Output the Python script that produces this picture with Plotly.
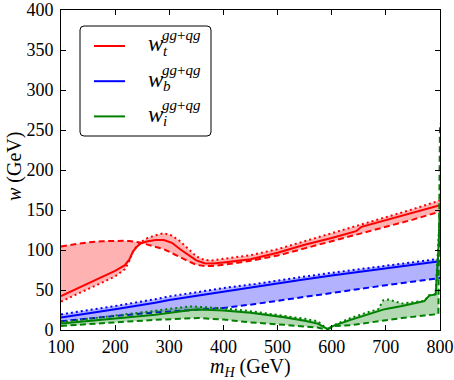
import plotly.graph_objects as go

# ---------------- data ----------------
mH_t = [100, 125, 150, 175, 200, 218, 226, 233, 240, 248, 260, 275, 290, 305, 320, 335, 350, 365, 380, 400,
        450, 500, 550, 600, 645, 655, 700, 750, 800]
wt_solid = [42.5, 50, 58, 66, 74, 81, 88, 98, 104, 108.5, 111, 112.5, 112.5, 109, 101, 94, 87, 83.5, 83, 84.5,
            88.5, 96.5, 106.5, 115, 123.5, 129, 137.5, 147, 156]
wt_dashed = [104.5, 107.5, 109.6, 111, 111.7, 111.5, 111.3, 111, 110, 109, 106.5, 104, 101, 96, 90.5, 86, 81.5, 80, 80, 81.5,
             86.5, 93, 102, 111, 119.5, 121, 129, 138, 148]
wt_dotted = [35.5, 43, 51, 59, 67, 76, 86, 98, 105, 110, 115, 118.5, 121, 118, 111, 101, 92, 87.5, 87, 89,
             93.5, 101, 111, 121, 130.5, 132, 141, 151, 162]

mH_b = [100, 150, 200, 274, 300, 354, 400, 459, 500, 542, 600, 635, 700, 800]
wb_solid = [15.5, 20.5, 26, 34, 37.5, 43, 48, 53.5, 58, 62.5, 68, 71, 77.5, 86]
wb_dashed = [11, 14.5, 17.5, 22, 23, 25, 27.5, 32.5, 36.5, 40.8, 46, 50, 56, 65]
wb_dotted = [19.5, 24.5, 30, 38.5, 42, 47.5, 52.5, 57.5, 62, 66, 71.5, 74.5, 80.5, 89]

mH_i = [100, 150, 200, 274, 300, 340, 354, 400, 450, 512, 550, 574, 592, 604, 635, 666, 686, 695, 705, 730,
        771, 780, 792, 797, 800]
wi_solid = [8, 11.5, 14.5, 19, 21.5, 25, 25.5, 24.5, 21.5, 16, 11.5, 8, 1.5, 5.5, 12.7, 19.5, 24, 25.5, 27, 30,
            36, 43, 44.5, 100, 150]
wi_dotted = [10, 14, 17.5, 24, 26.5, 29.5, 29, 27, 23.5, 18, 14, 11, 1, 6, 15, 22, 26, 37, 38, 33,
             36.5, 43.5, 45, 110, 150]
wi_dashed = [5, 7.5, 9.5, 12.7, 13.5, 15, 15, 13, 9.5, 6.5, 4.5, 3, 0.5, 4.8, 6, 9, 11.5, 12.3, 13, 15,
             18, 18.8, 19.5, 20, 258]

x_ticks = [100, 200, 300, 400, 500, 600, 700, 800]
y_ticks = [0, 50, 100, 150, 200, 250, 300, 350, 400]

series = [
    ("t", mH_t, wt_solid, wt_dashed, wt_dotted, "#ff0000", "rgba(255,0,0,0.3)"),
    ("b", mH_b, wb_solid, wb_dashed, wb_dotted, "#0000ff", "rgba(0,0,255,0.3)"),
    ("i", mH_i, wi_solid, wi_dashed, wi_dotted, "#008000", "rgba(0,128,0,0.3)"),
]

# ---------------- layout geometry (window pixels) ----------------
W, H = 454, 380
PL, PR, PT, PB = 61, 440, 10, 330          # plot area
L, T = PL, PT
R, B = W - PR, H - PB
PW, PH = PR - PL, PB - PT


def px2x(px):
    return (px - PL) / PW


def py2y(py):
    return (PB - py) / PH


FONT = "Liberation Serif"

fig = go.Figure()

for name, m, s, d, o, col, fcol in series:
    fig.add_trace(go.Scatter(x=list(m) + list(m)[::-1], y=list(d) + list(o)[::-1],
                             fill="toself", fillcolor=fcol, mode="lines",
                             line=dict(width=0), hoverinfo="skip", showlegend=False))
    fig.add_trace(go.Scatter(x=m, y=d, mode="lines", showlegend=False,
                             line=dict(color=col, width=2, dash="6px,3.5px")))
    fig.add_trace(go.Scatter(x=m, y=o, mode="lines", showlegend=False,
                             line=dict(color=col, width=2, dash="2px,3px")))
    fig.add_trace(go.Scatter(x=m, y=s, mode="lines", showlegend=False,
                             line=dict(color=col, width=2)))

axis_common = dict(showgrid=False, zeroline=False, showline=True, linecolor="black", linewidth=1,
                   mirror="ticks", ticks="inside", ticklen=5, tickcolor="black", tickwidth=1,
                   automargin=False,
                   tickfont=dict(family=FONT, size=18, color="black"))

fig.update_xaxes(range=[100, 800], tickvals=x_ticks, ticktext=[str(v) for v in x_ticks], **axis_common)
fig.update_yaxes(range=[0, 400], tickvals=y_ticks, ticktext=[str(v) for v in y_ticks],
                 ticklabelstandoff=3, **axis_common)

shapes = []
annotations = []

# legend box
x0, x1, y0, y1, r = 80, 211, 26, 136, 4
X0, X1, Y0, Y1 = px2x(x0), px2x(x1), py2y(y0), py2y(y1)
rx, ry = r / PW, r / PH
path = (f"M {X0+rx},{Y0} L {X1-rx},{Y0} Q {X1},{Y0} {X1},{Y0-ry} L {X1},{Y1+ry} Q {X1},{Y1} {X1-rx},{Y1} "
        f"L {X0+rx},{Y1} Q {X0},{Y1} {X0},{Y1+ry} L {X0},{Y0-ry} Q {X0},{Y0} {X0+rx},{Y0} Z")
shapes.append(dict(type="path", xref="paper", yref="paper", path=path,
                   line=dict(color="black", width=1), fillcolor="white", layer="above"))

for k, (name, m, s, d, o, col, fcol) in enumerate(series):
    yl = 46 + 35.2 * k
    shapes.append(dict(type="line", xref="paper", yref="paper", x0=px2x(94), x1=px2x(125),
                       y0=py2y(yl), y1=py2y(yl), line=dict(color=col, width=2), layer="above"))
    annotations.append(dict(xref="paper", yref="paper", x=px2x(146), y=py2y(yl - 2), xanchor="left",
                            yanchor="middle", showarrow=False, text="<i>w</i>",
                            font=dict(family=FONT, size=23, color="black")))
    annotations.append(dict(xref="paper", yref="paper", x=px2x(160), y=py2y(yl - 11), xanchor="left",
                            yanchor="middle", showarrow=False, text="<i>gg</i>+<i>qg</i>",
                            font=dict(family=FONT, size=15, color="black")))
    annotations.append(dict(xref="paper", yref="paper", x=px2x(161), y=py2y(yl + 5), xanchor="left",
                            yanchor="middle", showarrow=False, text=f"<i>{name}</i>",
                            font=dict(family=FONT, size=15, color="black")))

# axis titles
annotations.append(dict(xref="paper", yref="paper", x=px2x(250), y=py2y(367), xanchor="center",
                        yanchor="middle", showarrow=False,
                        text="<i>m</i><sub><i>H</i></sub> (GeV)",
                        font=dict(family=FONT, size=20, color="black")))
annotations.append(dict(xref="paper", yref="paper", x=px2x(14), y=py2y(167), xanchor="center",
                        yanchor="middle", showarrow=False, textangle=-90,
                        text="<i>w</i> (GeV)",
                        font=dict(family=FONT, size=20, color="black")))

fig.update_layout(width=W, height=H, margin=dict(l=L, r=R, t=T, b=B, autoexpand=False),
                  paper_bgcolor="white", plot_bgcolor="white",
                  shapes=shapes, annotations=annotations, showlegend=False)

fig.write_html("out.html", config={"displayModeBar": False},
               post_script="document.body.style.margin='0';document.body.style.padding='0';"
                           "document.body.style.overflow='hidden';")
